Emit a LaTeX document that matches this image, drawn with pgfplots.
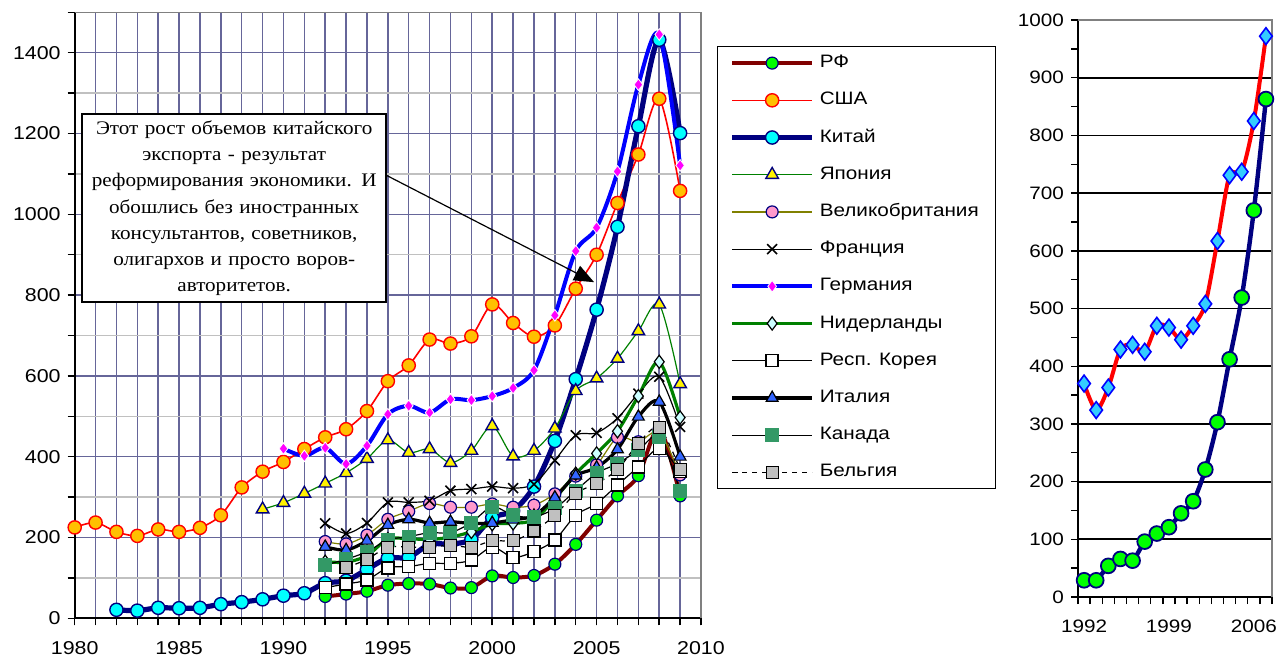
\documentclass[border=0pt]{standalone}
\usepackage{fontspec}
\setmainfont{Liberation Sans}[FakeStretch=1.15]
\newfontfamily\serifcyr{Liberation Serif}[FakeStretch=1.1]
\usepackage{pgfplots}
\pgfplotsset{compat=1.18}
\usetikzlibrary{arrows.meta}
\definecolor{gridblue}{HTML}{666699}
\definecolor{gridgray}{HTML}{C0C0C0}
\definecolor{rfred}{HTML}{800000}
\definecolor{mynavy}{HTML}{000080}
\definecolor{mygreen}{HTML}{00FF00}
\definecolor{myorange}{HTML}{FFC000}
\definecolor{mycyan}{HTML}{00FFFF}
\definecolor{dgreen}{HTML}{008000}
\definecolor{myolive}{HTML}{808000}
\definecolor{mypink}{HTML}{FF99CC}
\definecolor{mymagenta}{HTML}{FF00FF}
\definecolor{lcyan}{HTML}{CCFFFF}
\definecolor{itblue}{HTML}{3366FF}
\definecolor{cangreen}{HTML}{339966}
\definecolor{belgray}{HTML}{C0C0C0}
\definecolor{diamcyan}{HTML}{33CCFF}
\begin{document}
\begin{tikzpicture}
\useasboundingbox (0,0) rectangle (639.5pt,330.5pt);
\begin{axis}[
  at={(37.35pt,21.35pt)}, anchor=south west, scale only axis,
  width=313.15pt, height=303pt,
  xmin=1980, xmax=2010, ymin=0, ymax=1500,
  xtick={1980,1985,...,2010}, minor xtick={1980,...,2010},
  ytick={0,200,...,1400}, minor ytick={100,300,...,1500},
  grid=both,
  every major grid/.style={gridblue, line width=0.7pt},
  every minor x grid/.style={gridblue, line width=0.7pt},
  every minor y grid/.style={gridgray, line width=0.7pt},
  axis x line*=bottom, axis y line*=left,
  axis line style={black, line width=1pt, -},
  tick align=outside, major tick length=3.5pt, minor tick length=3.5pt,
  every tick/.style={black, line width=0.7pt},
  tick label style={font=\fontsize{9.3}{10}\selectfont},
  xticklabel style={yshift=-4.5pt},
  /pgf/number format/1000 sep={},
  /pgf/number format/assume math mode=true,
  clip=false,
  legend style={at={(1.0255,0.9444)}, anchor=north west, draw=black, line width=0.6pt,
    font=\fontsize{9}{10}\selectfont, inner xsep=6pt, inner ysep=4pt,
    row sep=10.1pt,
    nodes={text height=6.5pt, text depth=2pt, inner ysep=0pt, inner xsep=2.5pt}},
  legend cell align=left,
  legend image code/.code={\draw[mark repeat=2,mark phase=2,#1] plot coordinates {(0pt,0pt) (20pt,0pt) (40pt,0pt)};},
]
\draw[gray, line width=0.7pt] (rel axis cs:0,1) -- (rel axis cs:1,1) -- (rel axis cs:1,0);
% RF
\addplot[smooth, rfred, line width=2pt, mark=*, mark size=3pt, mark options={fill=mygreen, draw=mynavy, line width=0.6pt}] coordinates {
(1992,54)(1993,60)(1994,67)(1995,82)(1996,86)(1997,85)(1998,75)(1999,76)(2000,105)(2001,101)(2002,106)(2003,134)(2004,183)(2005,243)(2006,303)(2007,353)(2008,470)(2009,303)};
\addlegendentry{РФ}
% USA
\addplot[smooth, red, line width=0.8pt, mark=*, mark size=3.3pt, mark options={fill=myorange, draw=red, line width=0.7pt}] coordinates {
(1980,225)(1981,237)(1982,214)(1983,204)(1984,220)(1985,214)(1986,224)(1987,255)(1988,324)(1989,363)(1990,387)(1991,419)(1992,448)(1993,468)(1994,513)(1995,587)(1996,626)(1997,690)(1998,680)(1999,698)(2000,777)(2001,731)(2002,697)(2003,725)(2004,816)(2005,900)(2006,1028)(2007,1148)(2008,1286)(2009,1058)};
\addlegendentry{США}
% China
\addplot[smooth, mynavy, line width=2.6pt, mark=*, mark size=3.3pt, mark options={fill=mycyan, draw=mynavy, line width=0.7pt}] coordinates {
(1982,21)(1983,19)(1984,26)(1985,25)(1986,26)(1987,35)(1988,40)(1989,47)(1990,56)(1991,62)(1992,87)(1993,93)(1994,121)(1995,149)(1996,151)(1997,183)(1998,184)(1999,195)(2000,249)(2001,266)(2002,326)(2003,439)(2004,592)(2005,764)(2006,969)(2007,1218)(2008,1432)(2009,1201)};
\addlegendentry{Китай}
% Japan
\addplot[smooth, dgreen, line width=0.6pt, mark=triangle*, mark size=3.6pt, mark options={fill=yellow, draw=mynavy, line width=0.7pt}] coordinates {
(1989,270)(1990,286)(1991,309)(1992,334)(1993,360)(1994,395)(1995,441)(1996,410)(1997,419)(1998,385)(1999,415)(2000,476)(2001,401)(2002,415)(2003,470)(2004,563)(2005,594)(2006,643)(2007,711)(2008,777)(2009,580)};
\addlegendentry{Япония}
% UK
\addplot[smooth, myolive, line width=0.6pt, mark=*, mark size=3pt, mark options={fill=mypink, draw=mynavy, line width=0.6pt}] coordinates {
(1992,190)(1993,184)(1994,206)(1995,245)(1996,265)(1997,284)(1998,275)(1999,275)(2000,283)(2001,275)(2002,280)(2003,308)(2004,352)(2005,380)(2006,448)(2007,437)(2008,460)(2009,355)};
\addlegendentry{Великобритания}
% France
\addplot[smooth, black, line width=0.6pt, mark=x, mark size=3.5pt, mark options={line width=0.8pt}] coordinates {
(1992,235)(1993,210)(1994,236)(1995,287)(1996,287)(1997,291)(1998,316)(1999,320)(2000,326)(2001,322)(2002,332)(2003,391)(2004,453)(2005,459)(2006,495)(2007,556)(2008,598)(2009,474)};
\addlegendentry{Франция}
% Germany
\addplot[smooth, blue, line width=2pt, mark=diamond*, mark size=2.9pt, mark options={fill=mymagenta, draw=white, line width=0.4pt}] coordinates {
(1990,420)(1991,402)(1992,422)(1993,382)(1994,427)(1995,505)(1996,526)(1997,509)(1998,542)(1999,540)(2000,550)(2001,570)(2002,614)(2003,750)(2004,909)(2005,967)(2006,1106)(2007,1321)(2008,1445)(2009,1121)};
\addlegendentry{Германия}
% Netherlands
\addplot[smooth, dgreen, line width=1.6pt, mark=diamond*, mark size=3.3pt, mark options={fill=lcyan, draw=black, line width=0.6pt}] coordinates {
(1992,140)(1993,139)(1994,155)(1995,196)(1996,197)(1997,195)(1998,201)(1999,214)(2000,233)(2001,235)(2002,244)(2003,296)(2004,358)(2005,408)(2006,463)(2007,550)(2008,635)(2009,497)};
\addlegendentry{Нидерланды}
% Korea
\addplot[smooth, black, line width=0.6pt, mark=square*, mark size=3pt, mark options={fill=white, draw=black, line width=0.7pt}] coordinates {
(1992,76)(1993,85)(1994,95)(1995,125)(1996,128)(1997,136)(1998,136)(1999,144)(2000,176)(2001,151)(2002,165)(2003,194)(2004,255)(2005,284)(2006,330)(2007,375)(2008,420)(2009,364)};
\addlegendentry{Респ. Корея}
% Italy
\addplot[smooth, black, line width=1.6pt, mark=triangle*, mark size=3.4pt, mark options={fill=itblue, draw=black, line width=0.6pt}] coordinates {
(1992,177)(1993,169)(1994,192)(1995,231)(1996,245)(1997,236)(1998,239)(1999,235)(2000,236)(2001,244)(2002,254)(2003,299)(2004,353)(2005,373)(2006,418)(2007,499)(2008,536)(2009,400)};
\addlegendentry{Италия}
% Canada
\addplot[smooth, black, line width=0.6pt, mark=square*, mark size=3.2pt, mark options={fill=cangreen, draw=cangreen}] coordinates {
(1992,132)(1993,146)(1994,165)(1995,194)(1996,202)(1997,212)(1998,212)(1999,237)(2000,276)(2001,255)(2002,251)(2003,272)(2004,316)(2005,359)(2006,383)(2007,416)(2008,449)(2009,315)};
\addlegendentry{Канада}
% Belgium
\addplot[smooth, black, line width=0.6pt, dash pattern=on 2.5pt off 2.5pt, mark=square*, mark size=3pt, mark options={fill=belgray, draw=black, line width=0.6pt, solid}] coordinates {
(1993,125)(1994,146)(1995,176)(1996,176)(1997,176)(1998,181)(1999,176)(2000,192)(2001,192)(2002,216)(2003,255)(2004,309)(2005,334)(2006,368)(2007,433)(2008,472)(2009,368)};
\addlegendentry{Бельгия}
\node[draw=black, line width=0.8pt, fill=white, align=center, font=\serifcyr\fontsize{9.6}{13.1}\selectfont, text width=150pt, minimum height=94pt, inner sep=1pt] (ann) at (axis cs:1987.64,1015) {Этот рост объемов китайского\\экспорта - результат\\реформирования экономики. И\\обошлись без иностранных\\консультантов, советников,\\олигархов и просто воров-\\авторитетов.};
\draw[-{Triangle[length=10pt,width=8pt]}, line width=0.6pt] (axis cs:1994.95,1096) -- (axis cs:2004.88,832);
\end{axis}
\begin{axis}[
  at={(539pt,32pt)}, anchor=south west, scale only axis,
  width=97pt, height=288.5pt,
  xmin=1991.5, xmax=2007.5, ymin=0, ymax=1000,
  xtick={1991.5,1992.5,...,2007.5}, xticklabels={},
  extra x ticks={1992,1999,2006}, extra x tick labels={1992,1999,2006},
  extra x tick style={major tick length=0pt, xticklabel style={yshift=-8pt}},
  ytick={0,100,...,1000}, minor ytick={50,150,...,950},
  ymajorgrids, major grid style={black, line width=0.9pt},
  axis x line*=bottom, axis y line*=left,
  axis line style={black, line width=1pt, -},
  tick align=outside, major tick length=3.5pt, minor tick length=3.5pt,
  every tick/.style={black, line width=0.7pt},
  tick label style={font=\fontsize{9}{10}\selectfont},
  /pgf/number format/1000 sep={},
  /pgf/number format/assume math mode=true,
  clip=false,
]
\draw[gray, line width=0.7pt] (rel axis cs:0,1) -- (rel axis cs:1,1) -- (rel axis cs:1,0);
\addplot[smooth, red, line width=2pt, mark=diamond*, mark size=4.2pt, mark options={fill=diamcyan, draw=blue, line width=0.8pt}] coordinates {
(1992,370)(1993,324)(1994,363)(1995,429)(1996,437)(1997,425)(1998,470)(1999,467)(2000,446)(2001,470)(2002,508)(2003,617)(2004,731)(2005,737)(2006,825)(2007,972)};
\addplot[smooth, mynavy, line width=2.2pt, mark=*, mark size=3.7pt, mark options={fill=mygreen, draw=mynavy, line width=0.9pt}] coordinates {
(1992,29)(1993,29)(1994,54)(1995,66)(1996,63)(1997,96)(1998,110)(1999,121)(2000,145)(2001,166)(2002,221)(2003,303)(2004,412)(2005,519)(2006,670)(2007,863)};
\end{axis}
\end{tikzpicture}
\end{document}
